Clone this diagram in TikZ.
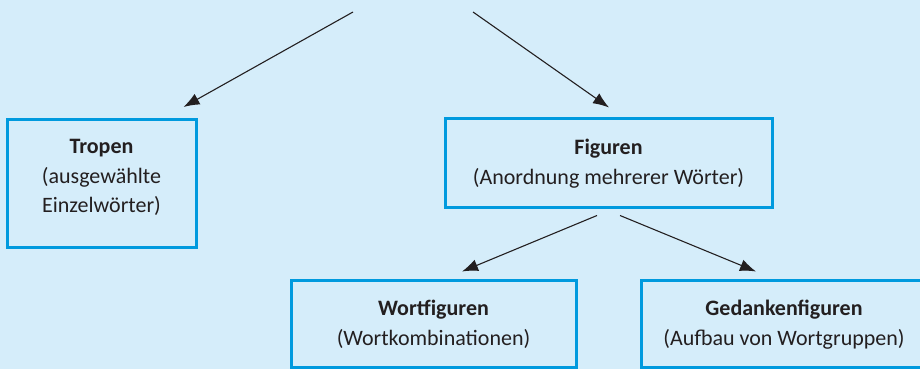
\documentclass[tikz,border=0pt]{standalone}
\usepackage{fontspec}
\setmainfont{Carlito}
\usetikzlibrary{arrows.meta}
\definecolor{bgblue}{HTML}{D5EDFA}
\definecolor{boxblue}{HTML}{009ADE}
\definecolor{txt}{HTML}{231F20}
\tikzset{
  box/.style={draw=boxblue, line width=3pt, fill=bgblue, align=center,
    text=txt, inner sep=0pt, font=\fontsize{22}{29.5}\selectfont},
  boxtext/.style={align=center, text=txt, inner sep=0pt,
    font=\fontsize{22}{29.5}\selectfont},
  conn/.style={draw=txt, line width=1.1pt, -{Latex[length=16pt,width=12pt]}}
}
\begin{document}
\begin{tikzpicture}[x=1pt,y=1pt]
\useasboundingbox (0,0) rectangle (920,369);
\fill[bgblue] (0,0) rectangle (920,369);
\clip (0,0) rectangle (920,369);
% boxes (y = 369 - pixel y)
\node[box, minimum width=189pt, minimum height=128pt] (tropen) at (101.5,185.5) {};
\node[boxtext] (tropentext) at ([yshift=6pt]tropen.center)
  {\textbf{Tropen}\\(ausgewählte\\Einzelwörter)};
\node[box, minimum width=327pt, minimum height=89pt] (figuren) at (608.5,205.5)
  {\textbf{Figuren}\\(Anordnung mehrerer Wörter)};
\node[box, minimum width=285pt, minimum height=87pt] (wort) at (433.5,44.5)
  {\textbf{Wortfiguren}\\(Wortkombinationen)};
\node[box, minimum width=286pt, minimum height=87pt] (gedanken) at (784,44.5)
  {\textbf{Gedankenfiguren}\\(Aufbau von Wortgruppen)};
% free ends and tips
\coordinate (s1) at (353,357);
\coordinate (s2) at (473,357);
\coordinate (t1) at ([xshift=-14pt,yshift=11pt]tropen.north east);
\coordinate (t2) at ([xshift=0.5pt,yshift=10pt]figuren.north);
\coordinate (f1) at ([xshift=-11.5pt,yshift=-6pt]figuren.south);
\coordinate (f2) at ([xshift=11.5pt,yshift=-6pt]figuren.south);
\coordinate (t3) at ([xshift=28.5pt,yshift=8pt]wort.north);
\coordinate (t4) at ([xshift=-28pt,yshift=8pt]gedanken.north);
\draw[conn] (s1) -- (t1);
\draw[conn] (s2) -- (t2);
\draw[conn] (f1) -- (t3);
\draw[conn] (f2) -- (t4);
\end{tikzpicture}
\end{document}
